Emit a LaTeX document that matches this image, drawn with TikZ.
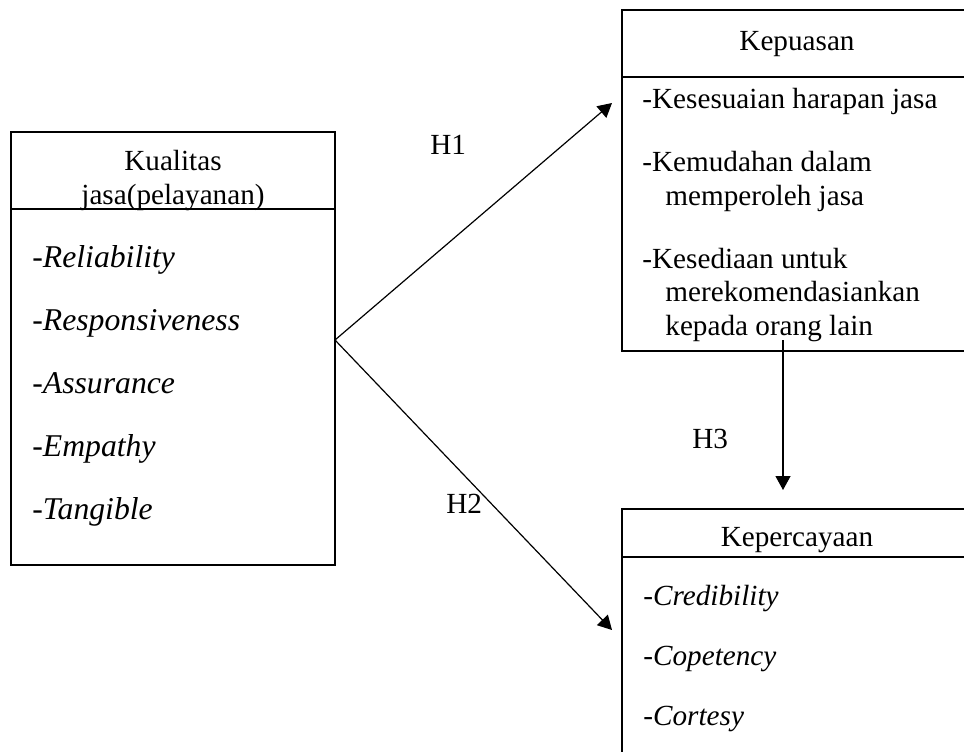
\documentclass[tikz,border=0pt]{standalone}
\usepackage{fontspec}
\setmainfont{Liberation Serif}
\usepackage{tikz}
\usetikzlibrary{arrows.meta,positioning}

\begin{document}
\begin{tikzpicture}[
    x=0.5pt, y=-0.5pt,
    >={Triangle[length=7pt, width=7.5pt]},
    head/.style={draw, line width=0.75pt, anchor=north west,
                 inner sep=0pt, outer sep=0pt},
    body/.style={draw, line width=0.75pt, inner sep=0pt, outer sep=0pt},
    title/.style={align=center, inner sep=0pt},
    items/.style={anchor=north west, align=left, inner sep=0pt},
    hlabel/.style={anchor=base west, inner sep=0pt},
    arrow/.style={->, line width=0.6pt},
    every node/.style={font=\fontsize{14.6}{16.75}\selectfont},
  ]
  \useasboundingbox (0,0) rectangle (964,751);

  % Left: Kualitas jasa
  \node[head, minimum width=162pt, minimum height=38.5pt] at (11,132) (kualhead) {};
  \node[body, below=0pt of kualhead, minimum width=162pt,
        minimum height=178pt] (kualbody) {};
  \node[title, anchor=north] at (173,150) (kualtitle)
    {Kualitas\\jasa(pelayanan)};
  \node[items, font=\fontsize{15.85}{18.25}\selectfont] at (32,245) (kualitems)
    {-\textit{Reliability}\\[13.25pt]
     -\textit{Responsiveness}\\[13.25pt]
     -\textit{Assurance}\\[13.25pt]
     -\textit{Empathy}\\[13.25pt]
     -\textit{Tangible}};

  % Right top: Kepuasan
  \node[head, minimum width=174pt, minimum height=33.5pt] at (622,10) (puashead) {};
  \node[body, below=0pt of puashead, minimum width=174pt,
        minimum height=137pt] (puasbody) {};
  \node[title, anchor=base] at (797,50) (puastitle) {Kepuasan};
  \node[items] at (642,88) (puasitems)
    {-Kesesuaian harapan jasa\\[14.75pt]
     -Kemudahan dalam\\
     \hspace*{11.5pt}memperoleh jasa\\[14.75pt]
     -Kesediaan untuk\\
     \hspace*{11.5pt}merekomendasiankan\\
     \hspace*{11.5pt}kepada orang lain};

  % Right bottom: Kepercayaan
  \node[head, minimum width=174pt, minimum height=24pt] at (622,509) (percayahead) {};
  \node[body, below=0pt of percayahead, minimum width=174pt,
        minimum height=130pt] (percayabody) {};
  \node[title, anchor=base] at (797,546) (percayatitle) {Kepercayaan};
  \node[items] at (643,585) (percayaitems)
    {-\textit{Credibility}\\[13.25pt]
     -\textit{Copetency}\\[13.25pt]
     -\textit{Cortesy}};

  % Arrow ends
  \coordinate (fork) at (335,340);
  \coordinate (h1tip) at (612,103);
  \coordinate (h2tip) at (612,630);
  \coordinate (h3tail) at (783,340);
  \coordinate (h3tip) at (783,490);

  % Arrows
  \draw[arrow] (fork) -- (h1tip);
  \draw[arrow] (fork) -- (h2tip);
  \draw[arrow] (h3tail) -- (h3tip);

  % Hypothesis labels
  \node[hlabel] at (430,154) (h1) {H1};
  \node[hlabel] at (446,513) (h2) {H2};
  \node[hlabel] at (692,448) (h3) {H3};

\end{tikzpicture}
\end{document}
